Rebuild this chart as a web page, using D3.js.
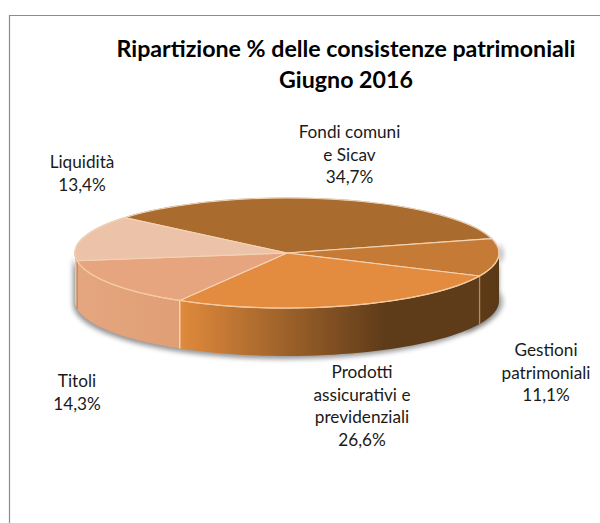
<!DOCTYPE html>
<html>
  <head>
    <meta charset="utf-8" />
    <title>Ripartizione % delle consistenze patrimoniali</title>
    <script src="https://d3js.org/d3.v7.min.js"></script>
    <style>
      html, body { margin: 0; padding: 0; background: #fff; }
      svg { display: block; }
      text { font-family: Lato, 'Open Sans', sans-serif; fill: #1a1a1a; }
      .title { font-size: 23.2px; font-weight: 700; fill: #000; }
      .label { font-size: 17.2px; }
    </style>
  </head>
  <body>
    <div id="chart"></div>
    <script>
      // dati, in senso orario
      const categories = ['Fondi comuni e Sicav', 'Gestioni patrimoniali', 'Prodotti assicurativi e previdenziali', 'Titoli', 'Liquidità'];
      const values = [34.7, 11.1, 26.6, 14.3, 13.4];
      const labelLines = [
        ['Fondi comuni', 'e Sicav', '34,7%'],
        ['Gestioni', 'patrimoniali', '11,1%'],
        ['Prodotti', 'assicurativi e', 'previdenziali', '26,6%'],
        ['Titoli', '14,3%'],
        ['Liquidità', '13,4%'],
      ];
      const titleLines = ['Ripartizione % delle consistenze patrimoniali', 'Giugno 2016'];

      const topColors = ['#a96b2e', '#c57b36', '#e38b3e', '#e7a57f', '#ecc2a9'];
      const wallColors = [
        ['#a96b2e', '#a96b2e'],
        ['#5e3b18', '#5a3917'],
        ['#e08a3c', '#5f3c19'],
        ['#e4a680', '#e09e74'],
        ['#ecc2a9', '#ecc2a9'],
      ];
      const labelPos = [[349.5, 138], [546, 356], [362, 378], [77, 387], [82, 168]];
      const lineStep = 22.6;

      const width = 600;
      const height = 523;
      const cx = 287;
      const cy = 253;
      const rx = 212;
      const ry = 55;
      const depth = 48;
      const startDeg = -50;

      const svg = d3.select('#chart').append('svg').attr('width', width).attr('height', height);
      const defs = svg.append('defs');

      defs.append('filter').attr('id', 'blur').attr('x', '-10%').attr('y', '-20%').attr('width', '120%').attr('height', '140%')
        .append('feGaussianBlur').attr('stdDeviation', 2.5);

      // cornice
      svg.append('path')
        .attr('d', `M9.5,${height}V15.5H${width}`)
        .attr('fill', 'none')
        .attr('stroke', '#8c8c8c')
        .attr('stroke-width', 1.2);

      // layout a torta
      const pie = d3.pie().sort(null).value((d) => d)
        .startAngle((startDeg * Math.PI) / 180)
        .endAngle(((startDeg + 360) * Math.PI) / 180);
      const slices = pie(values);

      const px = (a) => cx + rx * Math.sin(a);
      const py = (a) => cy - ry * Math.cos(a);
      const arcLine = d3.line().x((a) => px(a)).y((a) => py(a));

      // parte frontale visibile di una fetta
      function wallPath(a0, a1) {
        const n = 40;
        const angles = d3.range(n + 1).map((i) => a0 + ((a1 - a0) * i) / n);
        const top = angles.map((a) => [px(a), py(a)]);
        const bottom = angles.slice().reverse().map((a) => [px(a), py(a) + depth]);
        return d3.line()(top.concat(bottom)) + 'Z';
      }

      const front0 = Math.PI / 2;
      const front1 = (3 * Math.PI) / 2;
      const walls = slices
        .map((s, i) => {
          const a0 = Math.max(s.startAngle, front0);
          const a1 = Math.min(s.endAngle, front1);
          return { i, a0, a1 };
        })
        .filter((d) => d.a1 > d.a0);

      // ombra sotto il disco
      svg.append('path')
        .attr('d', wallPath(front0, front1))
        .attr('transform', 'translate(-2,3)')
        .attr('fill', '#6f6f6f')
        .attr('opacity', 0.75)
        .attr('filter', 'url(#blur)');
      svg.append('path')
        .attr('d', wallPath(front0 - 0.2, front0 + 0.6))
        .attr('transform', 'translate(4,1)')
        .attr('fill', '#6f6f6f')
        .attr('opacity', 0.6)
        .attr('filter', 'url(#blur)');

      // sfumature delle pareti
      walls.forEach((d) => {
        const xa = px(d.a0);
        const xb = px(d.a1);
        const g = defs.append('linearGradient')
          .attr('id', `wall-${d.i}`)
          .attr('gradientUnits', 'userSpaceOnUse')
          .attr('x1', Math.min(xa, xb))
          .attr('x2', Math.max(xa, xb))
          .attr('y1', 0)
          .attr('y2', 0);
        g.append('stop').attr('offset', '0%').attr('stop-color', wallColors[d.i][0]);
        g.append('stop').attr('offset', d.i === 2 ? '68%' : '100%').attr('stop-color', wallColors[d.i][1]);
      });

      svg.append('g')
        .selectAll('path')
        .data(walls)
        .join('path')
        .attr('d', (d) => wallPath(d.a0, d.a1))
        .attr('fill', (d) => `url(#wall-${d.i})`);

      // giunti verticali tra le pareti
      svg.append('g')
        .selectAll('line')
        .data(walls.slice(1))
        .join('line')
        .attr('x1', (d) => px(d.a0))
        .attr('x2', (d) => px(d.a0))
        .attr('y1', (d) => py(d.a0))
        .attr('y2', (d) => py(d.a0) + depth)
        .attr('stroke', (d) => (d.i === 3 ? '#f8dcc4' : '#b98a5c'))
        .attr('stroke-width', 1.3);

      // alone grigio sul bordo posteriore
      svg.append('path')
        .attr('d', arcLine(d3.range(-1.75, 1.75, 0.05)))
        .attr('fill', 'none')
        .attr('stroke', '#b5b0aa')
        .attr('stroke-width', 1.2);

      // faccia superiore
      const arc = d3.arc().innerRadius(0).outerRadius(1);
      svg.append('g')
        .attr('transform', `translate(${cx},${cy}) scale(${rx},${ry})`)
        .selectAll('path')
        .data(slices)
        .join('path')
        .attr('d', arc)
        .attr('fill', (d, i) => topColors[i])
        .attr('stroke', '#f3d3b3')
        .attr('stroke-width', 1.1)
        .attr('vector-effect', 'non-scaling-stroke');

      // bordo frontale chiaro
      svg.append('path')
        .attr('d', arcLine(d3.range(front0 - 0.05, front1 + 0.05, 0.03)))
        .attr('fill', 'none')
        .attr('stroke', '#f4c9a0')
        .attr('stroke-width', 1.2);

      // titolo
      svg.append('g')
        .selectAll('text')
        .data(titleLines)
        .join('text')
        .attr('class', 'title')
        .attr('x', 346)
        .attr('y', (d, i) => 57 + i * 31)
        .attr('text-anchor', 'middle')
        .text((d) => d);

      // etichette
      const label = svg.append('g')
        .selectAll('text')
        .data(labelLines)
        .join('text')
        .attr('class', 'label')
        .attr('text-anchor', 'middle')
        .attr('aria-label', (d, i) => categories[i]);
      label.selectAll('tspan')
        .data((d, i) => d.map((t, j) => ({ t, j, i })))
        .join('tspan')
        .attr('x', (d) => labelPos[d.i][0])
        .attr('y', (d) => labelPos[d.i][1] + d.j * lineStep)
        .text((d) => d.t);
    </script>
  </body>
</html>
